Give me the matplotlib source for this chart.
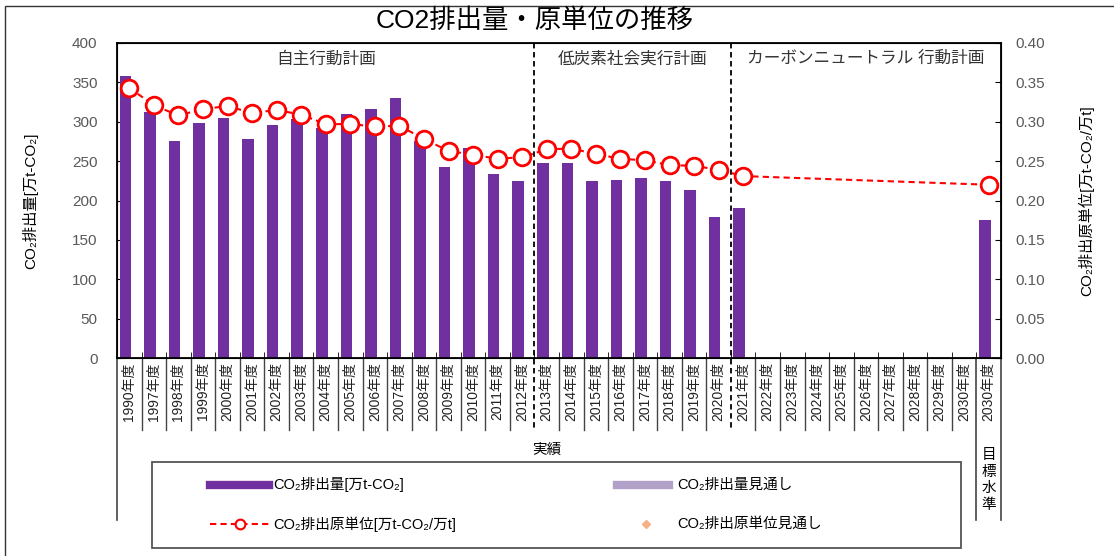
import numpy as np
import matplotlib
matplotlib.use("Agg")
import matplotlib.pyplot as plt
from matplotlib.lines import Line2D
from matplotlib.patches import Rectangle
from matplotlib.transforms import blended_transform_factory

plt.rcParams['font.family'] = ['Liberation Sans', 'Noto Sans CJK JP', 'DejaVu Sans']

# データ
years = ['1990'] + [str(y) for y in range(1997, 2031)] + ['2030']
labels = [y + '年度' for y in years]
nan = np.nan
emissions = [358, 313, 276, 299, 305, 278, 296, 303, 292, 310, 316, 330, 275,
             242, 267, 234, 225, 248, 248, 225, 226, 229, 225, 213, 179, 190,
             nan, nan, nan, nan, nan, nan, nan, nan, nan, 175]
intensity = [0.343, 0.321, 0.308, 0.316, 0.320, 0.311, 0.315, 0.309, 0.297,
             0.297, 0.294, 0.295, 0.278, 0.263, 0.258, 0.253, 0.255, 0.265,
             0.266, 0.259, 0.253, 0.251, 0.245, 0.244, 0.239, 0.231,
             nan, nan, nan, nan, nan, nan, nan, nan, nan, 0.220]
phases = ['自主行動計画', '低炭素社会実行計画', 'カーボンニュートラル 行動計画']
phase_bounds = [-0.5, 16.5, 24.5, 35.5]

purple = '#7030A0'
gray = '#595959'

x = np.arange(len(labels))
em = np.array(emissions, dtype=float)
it = np.array(intensity, dtype=float)

fig = plt.figure(figsize=(11.14, 5.56), dpi=100)
ax = fig.add_axes([117/1114, 1 - 358/556, 884/1114, 315/556])
ax2 = ax.twinx()

# 棒グラフ
ax.bar(x - 0.16, em, width=0.47, color=purple, zorder=2)
ax.set_xlim(-0.5, 35.5)
ax.set_ylim(0, 400)
ax.set_yticks(range(0, 401, 50))
ax.tick_params(axis='y', direction='in', length=4, labelsize=11, labelcolor=gray, pad=14)
ax.set_xticks(x)
ax.set_xticklabels(labels, rotation=90, fontsize=10, color='#222222')
ax.tick_params(axis='x', length=0, pad=3)
ax.set_xticks(np.arange(-0.5, 36, 1), minor=True)
ax.tick_params(axis='x', which='minor', direction='in', length=4)
for s in ax.spines.values():
    s.set_linewidth(1.3)

# 原単位
m = ~np.isnan(it)
ax2.plot(x[m], it[m], color='#FF0000', lw=1.5, ls=(0, (3, 2)), marker='o',
         ms=12, mfc='white', mec='#FF0000', mew=2, zorder=3)
ax2.set_ylim(0, 0.40)
ax2.set_yticks(np.arange(0, 0.401, 0.05))
ax2.set_yticklabels(['%.2f' % v for v in np.arange(0, 0.401, 0.05)])
ax2.tick_params(axis='y', direction='in', length=4, labelsize=11, labelcolor=gray, pad=10)

ax.set_ylabel('CO₂排出量[万t-CO₂]', fontsize=11, labelpad=24)
ax2.set_ylabel('CO₂排出原単位[万t-CO₂/万t]', fontsize=11, rotation=90, labelpad=24)

# 区切り線
tr = blended_transform_factory(ax.transData, ax.transAxes)
for b in phase_bounds[1:-1]:
    ax.plot([b, b], [1, -0.229], color='black', lw=1.3, ls=(0, (3, 2)),
            transform=tr, clip_on=False, zorder=4)
for i, name in enumerate(phases):
    cx = (phase_bounds[i] + phase_bounds[i + 1]) / 2
    ax.text(cx, 0.95, name, transform=tr, ha='center', va='center',
            fontsize=12, color='#333333')

for b in np.arange(0.5, 34.5, 1):
    if b in phase_bounds:
        continue
    ax.plot([b, b], [0, -0.229], color='#444444', lw=1, transform=tr, clip_on=False)
for b in [-0.5, 34.5, 35.5]:
    ax.plot([b, b], [0, -0.514], color='#444444', lw=1.2, transform=tr, clip_on=False)

ax.text(17, -0.292, '実績', transform=tr, ha='center', va='center', fontsize=10.5)
ax.text(35, -0.387, '目\n標\n水\n準', transform=tr, ha='center', va='center',
        fontsize=10.5, linespacing=1.25)

# タイトル
fig.text(535/1114, 1 - 21/556, 'CO2排出量・原単位の推移', ha='center', va='center', fontsize=19)

# 凡例
def fx(px):
    return px / 1114

def fy(py):
    return 1 - py / 556

fig.patches.append(Rectangle((fx(152), fy(548)), fx(961) - fx(152), fy(462) - fy(548),
                             transform=fig.transFigure, fill=False, ec='#555555', lw=1.3))
r1, r2 = 485, 524
fig.lines.append(Line2D([fx(210), fx(269)], [fy(r1), fy(r1)], color=purple, lw=6,
                        transform=fig.transFigure))
fig.text(fx(273), fy(r1), 'CO₂排出量[万t-CO₂]', va='center', fontsize=10.5)
fig.lines.append(Line2D([fx(617), fx(669)], [fy(r1), fy(r1)], color='#B1A0C7', lw=6,
                        transform=fig.transFigure))
fig.text(fx(677), fy(r1), 'CO₂排出量見通し', va='center', fontsize=10.5)
fig.lines.append(Line2D([fx(210), fx(269)], [fy(r2), fy(r2)], color='#FF0000', lw=1.5,
                        ls=(0, (3, 2)), transform=fig.transFigure))
fig.lines.append(Line2D([fx(239.5)], [fy(r2)], marker='o', ms=7, mfc='white',
                        mec='#FF0000', mew=1.5, transform=fig.transFigure))
fig.text(fx(273), fy(r2), 'CO₂排出原単位[万t-CO₂/万t]', va='center', fontsize=10.5)
fig.lines.append(Line2D([fx(646)], [fy(r2)], marker='D', ms=4, color='#F4B183',
                        lw=0, transform=fig.transFigure))
fig.text(fx(677), fy(r2), 'CO₂排出原単位見通し', va='center', fontsize=10.5)

# 外枠
fig.patches.append(Rectangle((fx(5), -0.1), 1.2, fy(6) + 0.1, transform=fig.transFigure,
                             fill=False, ec='#333333', lw=1))

fig.savefig('out.png', dpi=100)
